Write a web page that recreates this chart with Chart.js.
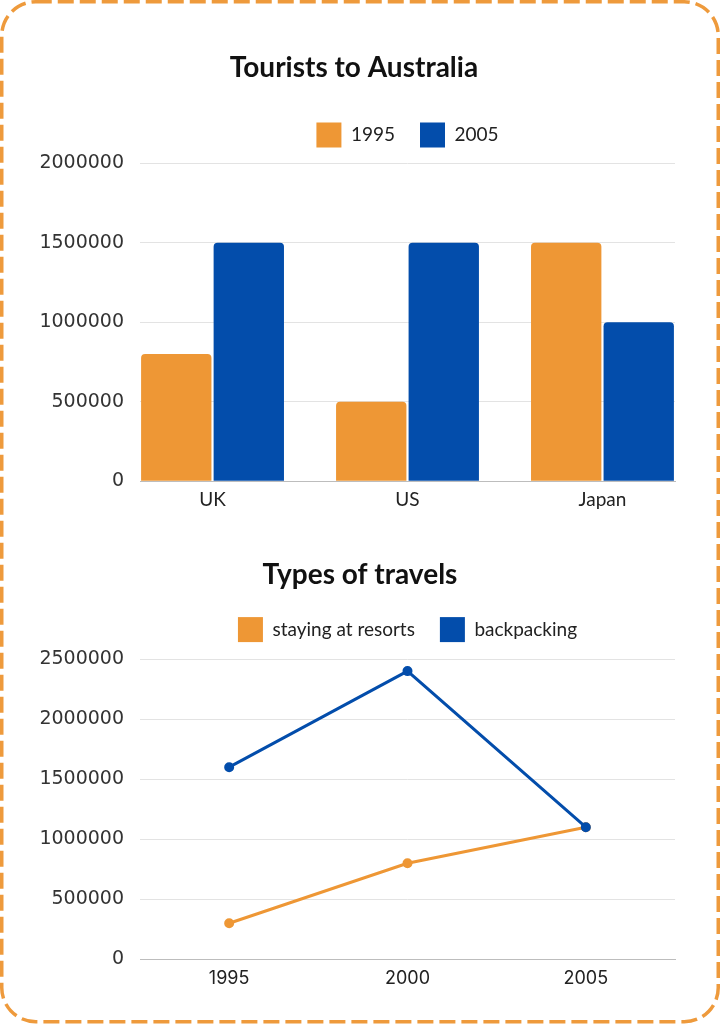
<!DOCTYPE html>
<html>
<head>
<meta charset="utf-8">
<script src="https://cdn.jsdelivr.net/npm/chart.js@4.4.1/dist/chart.umd.min.js"></script>
<style>
  html, body { margin: 0; padding: 0; background: #fff; }
  body { width: 720px; height: 1024px; position: relative; overflow: hidden; }
  #frame { position: absolute; left: 0; top: 0; }
  .box { position: absolute; left: 0; width: 720px; }
  #box-tourists { top: 0; height: 520px; }
  #box-types { top: 520px; height: 500px; }
</style>
</head>
<body>
<svg id="frame" width="720" height="1024">
  <rect x="1.75" y="1.75" width="716.5" height="1020" rx="34" fill="none"
        stroke="#EE9A3C" stroke-width="3.5" stroke-dasharray="16 6"/>
</svg>
<div class="box" id="box-tourists"><canvas id="chart-tourists" width="720" height="520"></canvas></div>
<div class="box" id="box-types"><canvas id="chart-types" width="720" height="500"></canvas></div>

<script>
// ── Daten ──
const countries    = ['UK', 'US', 'Japan'];
const tourists1995 = [800000, 500000, 1500000];
const tourists2005 = [1500000, 1500000, 1000000];

const years       = ['1995', '2000', '2005'];
const resorts     = [300000, 800000, 1100000];
const backpacking = [1600000, 2400000, 1100000];

// ── Stil ──
const orange = '#EE9735';
const blue   = '#034DAB';
const titleFont  = { family: 'Lato', size: 28, weight: 'bold' };
const legendFont = { family: 'Lato', size: 19 };
const tickFont   = { family: 'DejaVu Sans', size: 19 };

Chart.defaults.animation = false;
Chart.defaults.events = [];
Chart.defaults.plugins.tooltip.enabled = false;

// legend boxes without stroke, in dataset order
const plainLabels = chart =>
  Chart.defaults.plugins.legend.labels.generateLabels(chart)
    .map(l => ({ ...l, lineWidth: 0 }))
    .sort((a, b) => a.datasetIndex - b.datasetIndex);

// plain numbers, no thousands separator
const plainNumber = v => String(v);

// empty axis used only as spacing (top: legend → plot, right: plot → edge)
const spacer = (position, size) => ({
  position,
  grid: { display: false, drawTicks: false },
  border: { display: false },
  ticks: { display: false },
  afterFit: s => {
    if (position === 'top') s.height = size;
    else s.width = size;
  }
});

// ── Balkendiagramm: Tourists to Australia ──
new Chart(document.getElementById('chart-tourists'), {
  type: 'bar',
  data: {
    datasets: [
      {
        label: '1995',
        data: countries.map((c, i) => ({ x: i, y: tourists1995[i] })),
        backgroundColor: orange,
        borderRadius: 4,
        categoryPercentage: 0.744,
        barPercentage: 0.97
      },
      {
        label: '2005',
        data: countries.map((c, i) => ({ x: i, y: tourists2005[i] })),
        backgroundColor: blue,
        borderRadius: 4,
        categoryPercentage: 0.744,
        barPercentage: 0.97
      }
    ]
  },
  options: {
    responsive: false,
    layout: { padding: { left: 0, right: 12, top: 0, bottom: 1 } },
    plugins: {
      title: {
        display: true, text: 'Tourists to Australia', color: '#111',
        font: titleFont, padding: { top: 51.2, bottom: 12.6 }
      },
      legend: {
        fullSize: false,
        labels: { boxWidth: 25, boxHeight: 25, padding: 25, color: '#222', font: legendFont, generateLabels: plainLabels }
      }
    },
    scales: {
      x: {
        type: 'linear', min: -0.372, max: 2.372, bounds: 'data', offset: false,
        grid: { display: false, drawTicks: false, offset: false },
        border: { color: '#bdbdbd' },
        afterBuildTicks: s => { s.ticks = countries.map((c, i) => ({ value: i })); },
        ticks: { padding: 7.5, color: '#222', font: legendFont, callback: v => countries[v] }
      },
      gapTop: spacer('top', 6),
      y: {
        min: 0, max: 2000000,
        ticks: { stepSize: 500000, padding: 16, color: '#333', font: tickFont, callback: plainNumber },
        grid: { color: '#e3e3e3', drawTicks: false },
        border: { display: false },
        afterFit: s => { s.width = 140; }
      },
      gapRight: spacer('right', 33)
    }
  }
});

// ── Liniendiagramm: Types of travels ──
new Chart(document.getElementById('chart-types'), {
  type: 'line',
  data: {
    labels: years,
    datasets: [
      {
        label: 'staying at resorts',
        data: resorts,
        borderColor: orange, backgroundColor: orange,
        borderWidth: 3, pointRadius: 3.5, tension: 0, order: 2
      },
      {
        label: 'backpacking',
        data: backpacking,
        borderColor: blue, backgroundColor: blue,
        borderWidth: 3, pointRadius: 3.5, tension: 0, order: 1
      }
    ]
  },
  options: {
    responsive: false,
    layout: { padding: { left: 0, right: 0, top: 0, bottom: 21.7 } },
    plugins: {
      title: {
        display: true, text: 'Types of travels', color: '#111',
        font: titleFont, padding: { top: 38.2, bottom: 0.3 }
      },
      legend: {
        fullSize: false,
        labels: { boxWidth: 25, boxHeight: 25, padding: 25, color: '#222', font: legendFont, generateLabels: plainLabels }
      }
    },
    scales: {
      x: {
        offset: true,
        grid: { display: false, drawTicks: false },
        border: { color: '#bdbdbd' },
        ticks: { padding: 8.7, color: '#222', font: { family: 'Inter', size: 18 } }
      },
      gapTop: spacer('top', 7),
      y: {
        min: 0, max: 2500000,
        ticks: { stepSize: 500000, padding: 16, color: '#333', font: tickFont, callback: plainNumber },
        grid: { color: '#e3e3e3', drawTicks: false },
        border: { display: false },
        afterFit: s => { s.width = 140; }
      },
      gapRight: spacer('right', 45)
    }
  }
});
</script>
</body>
</html>
